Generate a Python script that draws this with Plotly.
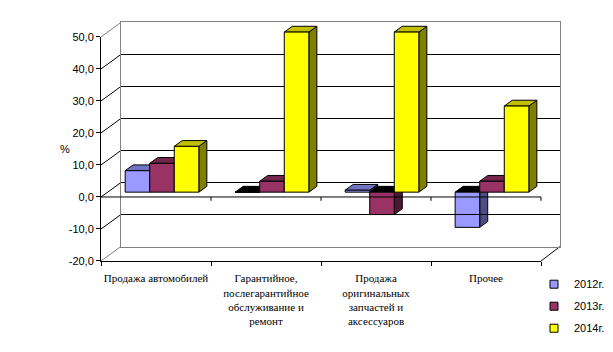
import plotly.graph_objects as go

# ---------------- data ----------------
categories = [
    "Продажа автомобилей",
    "Гарантийное,<br>послегарантийное<br>обслуживание и<br>ремонт",
    "Продажа<br>оригинальных<br>запчастей и<br>аксессуаров",
    "Прочее",
]
series_names = ["2012г.", "2013г.", "2014г."]
v2012 = [6.7, 0.0, 0.6, -11.0]
v2013 = [9.0, 3.4, -7.0, 3.4]
v2014 = [14.3, 50.0, 50.0, 26.9]
y_tickvals = [-20, -10, 0, 10, 20, 30, 40, 50]
y_ticktext = ["-20,0", "-10,0", "0,0", "10,0", "20,0", "30,0", "40,0", "50,0"]
y_min, y_max = -20, 50

# ---------------- styles ----------------
front_col = ["#9999FF", "#993366", "#FFFF00"]
top_col = ["#7373C4", "#73264D", "#C0C000"]
side_col = ["#4D4D80", "#4D1A33", "#808000"]

W, H = 613, 352
# pixel geometry of the pseudo-3D box
FX0, FX1, FYT, FYB = 101, 541, 32, 264      # front plane
BX0, BX1, BYT, BYB = 121, 560, 17, 249      # back wall
MX0, MX1, MYT, MYB = 107, 547, 27, 259      # bar front-face plane (for y_min..y_max)
DX, DY = 8, 6                               # bar depth in px


def px(x):
    return x / W


def py(y):
    return 1 - y / H


def yf(v):
    return FYB - (v - y_min) / (y_max - y_min) * (FYB - FYT)


def yb(v):
    return BYB - (v - y_min) / (y_max - y_min) * (BYB - BYT)


def ym(v):
    return MYB - (v - y_min) / (y_max - y_min) * (MYB - MYT)


n = len(categories)
cat_px = (MX1 - MX0) / n
# extended ranges for the bar plane so nothing gets clipped
y3_lo, y3_hi = -25, 56
x3_lo, x3_hi = -0.6, n - 0.4

fig = go.Figure()

# invisible trace on the back-wall subplot so it is drawn
fig.add_trace(go.Scatter(x=[None], y=[None], xaxis="x", yaxis="y",
                         showlegend=False, hoverinfo="skip"))
# invisible trace to carry the category labels on the front axis
fig.add_trace(go.Bar(x=categories, y=[None] * n, xaxis="x2", yaxis="y2",
                     showlegend=False, hoverinfo="skip"))

series = [v2012, v2013, v2014]
xs = list(range(n))
bargap = 0.33
bw = (1 - bargap) / 3
for k, (name, vals) in enumerate(zip(series_names, series)):
    fig.add_trace(go.Bar(
        x=xs, y=vals, name=name, xaxis="x3", yaxis="y3", showlegend=False,
        marker=dict(color=front_col[k], line=dict(color="black", width=1)),
    ))
    # legend swatch
    fig.add_trace(go.Scatter(
        x=[None], y=[None], name=name, mode="markers", xaxis="x3", yaxis="y3",
        legendgroup=name,
        marker=dict(symbol="square", size=8, color=front_col[k], line=dict(color="black", width=1)),
    ))

# depth faces (computed from the values in the bars' own axis units)
dxu = DX / cat_px
dyu = DY * (y_max - y_min) / (MYB - MYT)
shapes = []
for k, vals in enumerate(series):
    for i, v in enumerate(vals):
        xl = i + (k - 1) * bw - bw / 2
        xr = xl + bw
        lo, hi = min(v, 0), max(v, 0)
        side = f"M{xr},{lo} L{xr + dxu},{lo + dyu} L{xr + dxu},{hi + dyu} L{xr},{hi} Z"
        top = f"M{xl},{hi} L{xl + dxu},{hi + dyu} L{xr + dxu},{hi + dyu} L{xr},{hi} Z"
        shapes.append(dict(type="path", path=side, xref="x3", yref="y3", layer="below",
                           fillcolor=side_col[k], line=dict(color="black", width=1)))
        shapes.append(dict(type="path", path=top, xref="x3", yref="y3", layer="below",
                           fillcolor=(top_col[k] if v > 0 else "black"),
                           line=dict(color="black", width=1)))

# left side wall diagonals
for v in y_tickvals:
    c = "#808080" if v in (y_min, y_max) else "black"
    shapes.append(dict(type="line", xref="paper", yref="paper", layer="below",
                       x0=px(FX0), y0=py(yf(v)), x1=px(BX0), y1=py(yb(v)),
                       line=dict(color=c, width=1)))
# right floor diagonal
shapes.append(dict(type="line", xref="paper", yref="paper", layer="below",
                   x0=px(FX1), y0=py(FYB), x1=px(BX1), y1=py(BYB),
                   line=dict(color="black", width=1)))
# front zero line and back -10 line drawn above (as in the reference)
shapes.append(dict(type="line", xref="paper", yref="paper", layer="above",
                   x0=px(FX0), y0=py(yf(0)), x1=px(FX1), y1=py(yf(0)),
                   line=dict(color="black", width=1)))
for j in range(1, n + 1):
    xt = FX0 + j * (FX1 - FX0) / n
    shapes.append(dict(type="line", xref="paper", yref="paper", layer="above",
                       x0=px(xt), y0=py(yf(0)), x1=px(xt), y1=py(yf(0) + 4),
                       line=dict(color="black", width=1)))
shapes.append(dict(type="line", xref="paper", yref="paper", layer="above",
                   x0=px(BX0), y0=py(yb(-10)), x1=px(BX1), y1=py(yb(-10)),
                   line=dict(color="black", width=1)))

fig.update_layout(
    width=W, height=H, autosize=False,
    margin=dict(l=0, r=0, t=0, b=0),
    paper_bgcolor="white", plot_bgcolor="rgba(0,0,0,0)",
    barmode="group", bargap=bargap, bargroupgap=0,
    shapes=shapes,
    # back wall
    xaxis=dict(domain=[px(BX0), px(BX1)], range=[0, 1], showgrid=False, zeroline=False,
               showticklabels=False, ticks="", showline=True, mirror=True,
               linecolor="#808080", linewidth=1, anchor="y", fixedrange=True),
    yaxis=dict(domain=[py(BYB), py(BYT)], range=[y_min, y_max], tickmode="array",
               tickvals=[-10, 0, 10, 20, 30, 40], showgrid=True, gridcolor="black",
               gridwidth=1, zeroline=False, showticklabels=False, ticks="",
               showline=True, mirror=True, linecolor="#808080", linewidth=1,
               anchor="x", fixedrange=True),
    # front axes
    xaxis2=dict(domain=[px(FX0), px(FX1)], type="category", categoryarray=categories,
                categoryorder="array", range=[-0.5, n - 0.5], showgrid=False,
                zeroline=False, showline=True, linecolor="black", linewidth=1,
                ticks="outside", ticklen=4, tickcolor="black", tickson="boundaries",
                ticklabelstandoff=7,
                tickfont=dict(family="Liberation Serif", size=11, color="black"),
                tickangle=0, anchor="y2", fixedrange=True),
    yaxis2=dict(domain=[py(FYB), py(FYT)], range=[y_min, y_max], tickmode="array",
                tickvals=y_tickvals, ticktext=y_ticktext, showgrid=False, zeroline=False,
                showline=True, linecolor="black", linewidth=1, ticks="outside",
                ticklen=4, tickcolor="black",
                tickfont=dict(family="Liberation Sans", size=11, color="black"),
                anchor="x2", fixedrange=True),
    # bar plane (extended so top faces are not clipped)
    xaxis3=dict(domain=[px(MX0 + (x3_lo + 0.5) * cat_px), px(MX0 + (x3_hi + 0.5) * cat_px)],
                range=[x3_lo, x3_hi], visible=False, anchor="y3", fixedrange=True),
    yaxis3=dict(domain=[py(ym(y3_lo)), py(ym(y3_hi))], range=[y3_lo, y3_hi],
                visible=False, anchor="x3", fixedrange=True),
    legend=dict(x=px(534), y=py(273), xanchor="left", yanchor="top",
                font=dict(family="Liberation Sans", size=11, color="black"),
                bgcolor="rgba(0,0,0,0)", itemwidth=30, traceorder="grouped",
                tracegroupgap=3),
    annotations=[dict(text="%", x=px(58), y=py(148), xref="paper", yref="paper",
                      showarrow=False, font=dict(family="Liberation Sans", size=11, color="black"))],
)

fig.write_html("out.html")
